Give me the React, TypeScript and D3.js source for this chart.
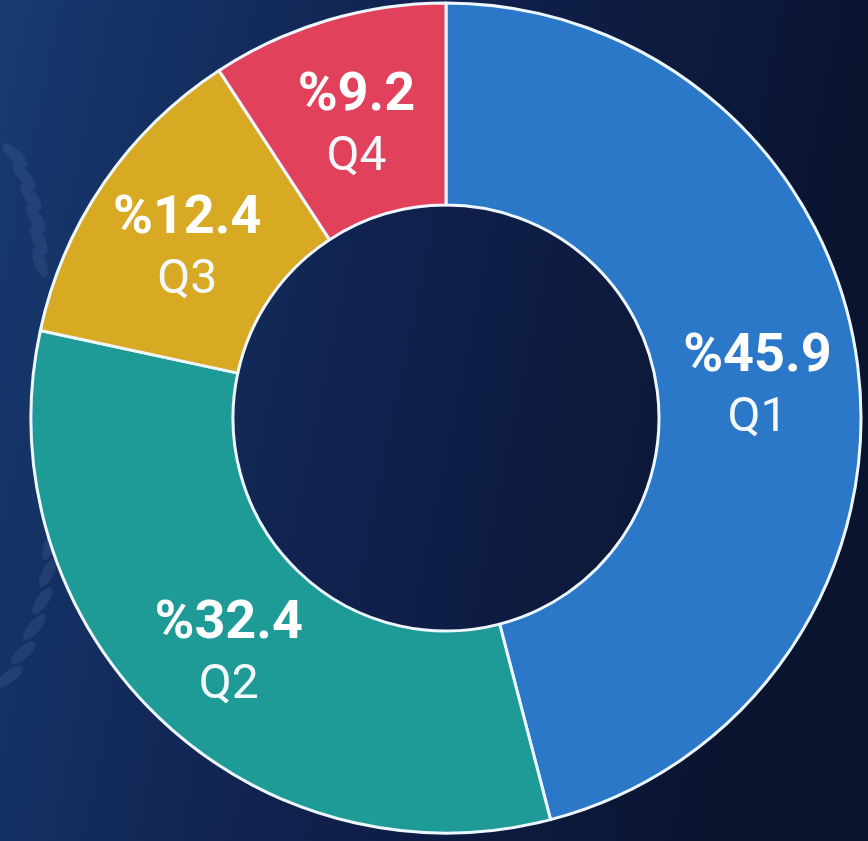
import { useEffect, useRef } from "react";
import * as d3 from "d3";

// chart data
const quarters = ["Q1", "Q2", "Q3", "Q4"];
const shares = [45.9, 32.4, 12.4, 9.2];
const sliceColors = ["#2b78c9", "#1f9b97", "#d8a922", "#e1415b"];

const WIDTH = 868;
const HEIGHT = 841;

function DonutChart() {
    const svgRef = useRef<SVGSVGElement | null>(null);

    useEffect(() => {
        const svg = d3.select(svgRef.current);
        svg.selectAll("*").remove();

        svg.attr("width", WIDTH).attr("height", HEIGHT);

        // background
        const defs = svg.append("defs");
        const bg = defs
            .append("linearGradient")
            .attr("id", "bgGrad")
            .attr("x1", "0%")
            .attr("y1", "0%")
            .attr("x2", "100%")
            .attr("y2", "20%");
        bg.append("stop").attr("offset", "0%").attr("stop-color", "#173a70");
        bg.append("stop").attr("offset", "50%").attr("stop-color", "#10214d");
        bg.append("stop").attr("offset", "100%").attr("stop-color", "#0a142e");

        svg.append("rect")
            .attr("width", WIDTH)
            .attr("height", HEIGHT)
            .attr("fill", "url(#bgGrad)");

        // faint laurel leaves at the left edge (decoration)
        const deco = svg.append("g").attr("opacity", 0.1).attr("fill", "#9fc0ee");
        const branch = (bx: number, by: number, r: number, a0: number, a1: number, n: number, tilt: number) => {
            for (let i = 0; i < n; i++) {
                const a = a0 + ((a1 - a0) * i) / (n - 1);
                const x = bx + r * Math.cos(a);
                const y = by + r * Math.sin(a);
                deco.append("ellipse")
                    .attr("cx", x)
                    .attr("cy", y)
                    .attr("rx", 6)
                    .attr("ry", 16)
                    .attr("transform", `rotate(${(a * 180) / Math.PI + tilt},${x},${y})`);
            }
        };
        branch(-200, 262, 240, -0.46, 0.0, 6, -20);
        branch(-200, 540, 250, 0.02, 0.58, 6, 20);

        // donut
        const cx = 446;
        const cy = 418;
        const outerR = 415;
        const innerR = 213;

        const pie = d3
            .pie<number>()
            .sort(null)
            .value((d) => d);
        const arcs = pie(shares);

        const arc = d3
            .arc<d3.PieArcDatum<number>>()
            .innerRadius(innerR)
            .outerRadius(outerR);

        const g = svg.append("g").attr("transform", `translate(${cx},${cy})`);

        g.selectAll(".slice")
            .data(arcs)
            .join("path")
            .attr("class", "slice")
            .attr("d", arc)
            .attr("fill", (_, i) => sliceColors[i])
            .attr("stroke", "#eef7ff")
            .attr("stroke-width", 3)
            .attr("stroke-linejoin", "round");

        // labels
        const labels = g
            .selectAll(".label")
            .data(arcs)
            .join("g")
            .attr("class", "label")
            .attr("transform", (d) => {
                const [x, y] = arc.centroid(d);
                return `translate(${x},${y})`;
            })
            .style("font-family", "Roboto, 'Noto Sans', sans-serif")
            .attr("text-anchor", "middle");

        labels
            .append("text")
            .attr("y", -7)
            .attr("fill", "#ffffff")
            .attr("font-size", 54)
            .attr("font-weight", 700)
            .text((d) => "%" + d.data.toFixed(1));

        labels
            .append("text")
            .attr("y", 53)
            .attr("fill", "#f3f8fc")
            .attr("font-size", 48)
            .attr("font-weight", 400)
            .text((_, i) => quarters[i]);
    }, []);

    return <svg ref={svgRef} style={{ display: "block" }}></svg>;
}

export default function App() {
    return (
        <div style={{ position: "absolute", left: 0, top: 0, width: WIDTH, height: HEIGHT, overflow: "hidden" }}>
            <DonutChart />
        </div>
    );
}
